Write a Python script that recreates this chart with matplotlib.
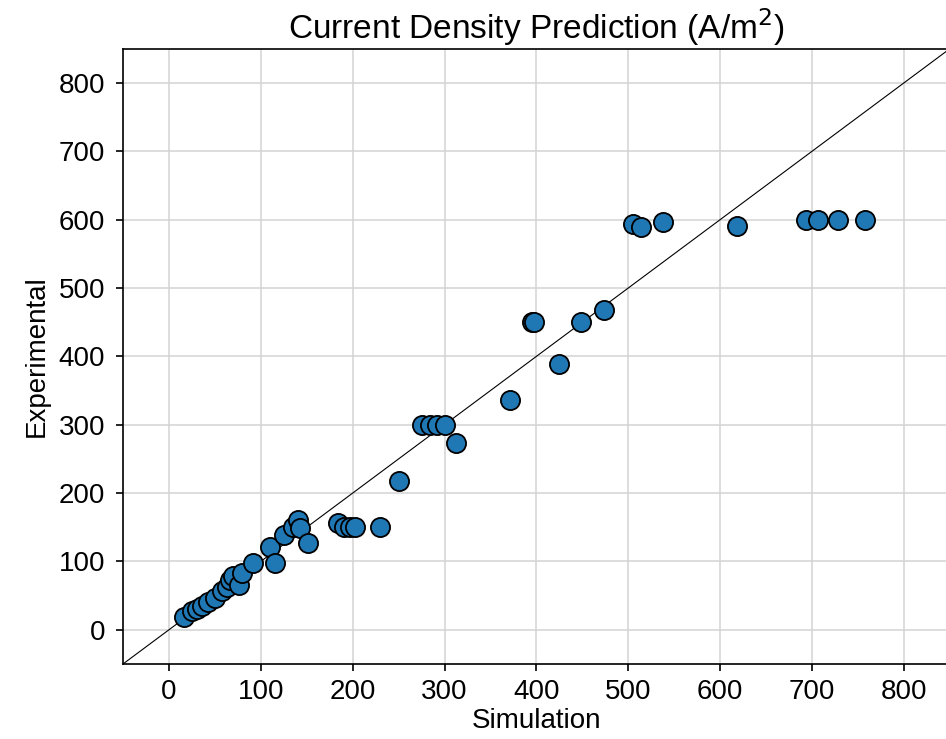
import matplotlib
matplotlib.use("Agg")
from matplotlib import pyplot as plt

plt.rcParams['font.family'] = ['Liberation Sans', 'DejaVu Sans']

# simulated vs measured current density (A/m^2)
simulation = [16, 25, 31, 36, 43, 50, 58, 63, 67, 70, 76, 80, 92, 110, 115,
              125, 135, 140, 143, 151, 184, 191, 197, 203, 230, 250,
              275, 284, 292, 300, 312, 371, 395, 397, 425, 449, 474,
              505, 514, 538, 618, 693, 707, 728, 758]
experimental = [19, 27, 31, 35, 40, 47, 57, 62, 73, 78, 66, 83, 98, 121, 98,
                139, 151, 160, 149, 127, 156, 151, 151, 151, 151, 218,
                300, 300, 300, 300, 273, 336, 450, 450, 389, 450, 468,
                594, 590, 597, 591, 600, 600, 600, 600]

fig = plt.figure(figsize=(9.46, 7.39), dpi=100)
ax = fig.add_axes([0.130, 0.1015, 0.874, 0.8325])

ax.grid(True, color='#d3d3d3', linewidth=1.1, zorder=0)
ax.set_axisbelow(True)
ax.plot([-50, 850], [-50, 850], color='black', linewidth=0.8, zorder=2)
ax.scatter(simulation, experimental, s=190, color='#1f77b4',
           edgecolors='black', linewidths=1.3, zorder=3)

ax.set_xlim(-50, 850)
ax.set_ylim(-50, 850)
ax.set_xticks(range(0, 801, 100))
ax.set_yticks(range(0, 801, 100))
ax.tick_params(labelsize=20, length=5, width=1.2)
ax.tick_params(axis='y', pad=8)
ax.tick_params(axis='x', pad=6)
for sp in ax.spines.values():
    sp.set_linewidth(1.2)

ax.set_xlabel('Simulation', fontsize=20, labelpad=2)
ax.set_ylabel('Experimental', fontsize=20, labelpad=6)
ax.set_title('Current Density Prediction (A/m$^2$)', fontsize=24, pad=7)

fig.savefig('out.png', dpi=100)
